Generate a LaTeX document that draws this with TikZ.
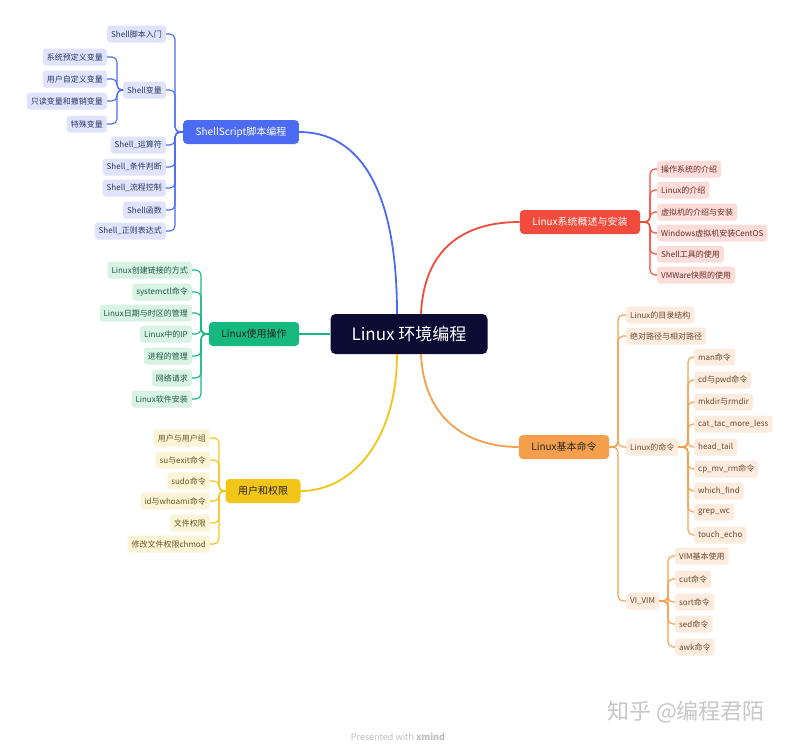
\documentclass[tikz,border=0pt]{standalone}
\usepackage{fontspec}
\setmainfont{Noto Sans CJK SC}
\usetikzlibrary{positioning,calc}
\definecolor{hub}{HTML}{0B0B33}
\definecolor{blu}{HTML}{4B6CF2}
\definecolor{blusoft}{HTML}{DFE4FC}
\definecolor{blutext}{HTML}{2E3766}
\definecolor{grn}{HTML}{17B880}
\definecolor{grnsoft}{HTML}{D8F2E6}
\definecolor{grntext}{HTML}{1E5A44}
\definecolor{yel}{HTML}{F2C519}
\definecolor{yelsoft}{HTML}{FCF4D6}
\definecolor{yeltext}{HTML}{65561F}
\definecolor{red}{HTML}{F04B3C}
\definecolor{redsoft}{HTML}{FCDDD9}
\definecolor{redtext}{HTML}{6A2B26}
\definecolor{org}{HTML}{F59F4C}
\definecolor{orgsoft}{HTML}{FDEBDD}
\definecolor{orgtext}{HTML}{6A4A30}

\begin{document}
\begin{tikzpicture}[x=1pt,y=-1pt,
  font=\fontsize{8}{9}\selectfont,
  leaf/.style={rounded corners=3pt,inner xsep=4pt,inner ysep=0pt,minimum height=17pt},
  bleaf/.style={leaf,fill=blusoft,text=blutext},
  gleaf/.style={leaf,fill=grnsoft,text=grntext},
  yleaf/.style={leaf,fill=yelsoft,text=yeltext},
  rleaf/.style={leaf,fill=redsoft,text=redtext},
  oleaf/.style={leaf,fill=orgsoft,text=orgtext},
  branch/.style={rounded corners=4pt,inner xsep=12.5pt,inner ysep=0pt,minimum height=24pt,
                 font=\fontsize{10}{12}\selectfont},
  bline/.style={blu,line width=1.1pt,rounded corners=5pt},
  gline/.style={grn,line width=1.1pt,rounded corners=5pt},
  yline/.style={yel,line width=1.1pt,rounded corners=5pt},
  rline/.style={red,line width=1.1pt,rounded corners=5pt},
  oline/.style={org,line width=1.1pt,rounded corners=5pt},
  trunk/.style={line width=1.8pt}
]
\fill[white] (0,0) rectangle (793,745);
\useasboundingbox (0,0) rectangle (793,745);

% centre
\node[fill=hub,text=white,rounded corners=5pt,minimum width=157pt,minimum height=40pt,
      font=\fontsize{17}{20}\selectfont] (hub) at (409,334) {Linux 环境编程};

% ShellScript
\node[branch,fill=blu,text=white] (ss) at (241,132) {ShellScript脚本编程};
\node[bleaf,anchor=east] (ss1) at (166,34)  {Shell脚本入门};
\node[bleaf,anchor=east] (ssv) at (166,90)  {Shell变量};
\node[bleaf,anchor=east] (ss3) at (166,145) {Shell\_运算符};
\node[bleaf,anchor=east] (ss4) at (166,167) {Shell\_条件判断};
\node[bleaf,anchor=east] (ss5) at (166,188) {Shell\_流程控制};
\node[bleaf,anchor=east] (ss6) at (166,210) {Shell函数};
\node[bleaf,anchor=east] (ss7) at (166,231) {Shell\_正则表达式};
\node[bleaf,anchor=east] (v1) at (107,57)  {系统预定义变量};
\node[bleaf,anchor=east] (v2) at (107,79)  {用户自定义变量};
\node[bleaf,anchor=east] (v3) at (107,101) {只读变量和撤销变量};
\node[bleaf,anchor=east] (v4) at (107,124) {特殊变量};
\coordinate (ssk) at (175,132);
\coordinate (ssvk) at (117,90);
\foreach \n in {ss1,ssv,ss3,ss4,ss5,ss6,ss7} \draw[bline] (ss.west) -- (ssk) |- (\n.east);
\foreach \n in {v1,v2,v3,v4} \draw[bline] (ssv.west) -- (ssvk) |- (\n.east);

% Linux使用操作
\node[branch,fill=grn,text=black!85] (gu) at (254,334) {Linux使用操作};
\node[gleaf,anchor=east] (g1) at (192,270) {Linux创建链接的方式};
\node[gleaf,anchor=east] (g2) at (192,292) {systemctl命令};
\node[gleaf,anchor=east] (g3) at (192,313) {Linux日期与时区的管理};
\node[gleaf,anchor=east] (g4) at (192,334) {Linux中的IP};
\node[gleaf,anchor=east] (g5) at (192,356) {进程的管理};
\node[gleaf,anchor=east] (g6) at (192,378) {网络请求};
\node[gleaf,anchor=east] (g7) at (192,399) {Linux软件安装};
\coordinate (gk) at (201,334);
\foreach \n in {g1,g2,g3,g4,g5,g6,g7} \draw[gline] (gu.west) -- (gk) |- (\n.east);

% 用户和权限
\node[branch,fill=yel,text=black!85] (yq) at (263,491) {用户和权限};
\node[yleaf,anchor=east] (y1) at (210,438) {用户与用户组};
\node[yleaf,anchor=east] (y2) at (210,460) {su与exit命令};
\node[yleaf,anchor=east] (y3) at (210,481) {sudo命令};
\node[yleaf,anchor=east] (y4) at (210,501) {id与whoami命令};
\node[yleaf,anchor=east] (y5) at (210,523) {文件权限};
\node[yleaf,anchor=east] (y6) at (210,544) {修改文件权限chmod};
\coordinate (yk) at (219,491);
\foreach \n in {y1,y2,y3,y4,y5,y6} \draw[yline] (yq.west) -- (yk) |- (\n.east);

% Linux系统概述与安装
\node[branch,fill=red,text=white] (rs) at (580,222) {Linux系统概述与安装};
\node[rleaf,anchor=west] (r1) at (657,169) {操作系统的介绍};
\node[rleaf,anchor=west] (r2) at (657,190) {Linux的介绍};
\node[rleaf,anchor=west] (r3) at (657,212) {虚拟机的介绍与安装};
\node[rleaf,anchor=west] (r4) at (657,233) {Windows虚拟机安装CentOS};
\node[rleaf,anchor=west] (r5) at (657,254) {Shell工具的使用};
\node[rleaf,anchor=west] (r6) at (657,275) {VMWare快照的使用};
\coordinate (rk) at (650,222);
\foreach \n in {r1,r2,r3,r4,r5,r6} \draw[rline] (rs.east) -- (rk) |- (\n.west);

% Linux基本命令
\node[branch,fill=org,text=black!85] (ob) at (564,447) {Linux基本命令};
\node[oleaf,anchor=west] (o1) at (626,315) {Linux的目录结构};
\node[oleaf,anchor=west] (o2) at (626,336) {绝对路径与相对路径};
\node[oleaf,anchor=west] (oc) at (626,447) {Linux的命令};
\node[oleaf,anchor=west] (ov) at (626,601) {VI\_VIM};
\coordinate (ok) at (618,447);
\foreach \n in {o1,o2,oc,ov} \draw[oline] (ob.east) -- (ok) |- (\n.west);

\node[oleaf,anchor=west] (c1) at (694,357) {man命令};
\node[oleaf,anchor=west] (c2) at (694,380) {cd与pwd命令};
\node[oleaf,anchor=west] (c3) at (694,402) {mkdir与rmdir};
\node[oleaf,anchor=west] (c4) at (694,424) {cat\_tac\_more\_less};
\node[oleaf,anchor=west] (c5) at (694,447) {head\_tail};
\node[oleaf,anchor=west] (c6) at (694,469) {cp\_mv\_rm命令};
\node[oleaf,anchor=west] (c7) at (694,491) {which\_find};
\node[oleaf,anchor=west] (c8) at (694,512) {grep\_wc};
\node[oleaf,anchor=west] (c9) at (694,535) {touch\_echo};
\coordinate (ock) at (688,447);
\foreach \n in {c1,c2,c3,c4,c5,c6,c7,c8,c9} \draw[oline] (oc.east) -- (ock) |- (\n.west);

\node[oleaf,anchor=west] (m1) at (675,556) {VIM基本使用};
\node[oleaf,anchor=west] (m2) at (675,579) {cut命令};
\node[oleaf,anchor=west] (m3) at (675,602) {sort命令};
\node[oleaf,anchor=west] (m4) at (675,624) {sed命令};
\node[oleaf,anchor=west] (m5) at (675,647) {awk命令};
\coordinate (ovk) at (668,601);
\foreach \n in {m1,m2,m3,m4,m5} \draw[oline] (ov.east) -- (ovk) |- (\n.west);

% trunks from the centre
\draw[blu,trunk] (ss.east) .. controls (360,132) and (397,190) .. ($(hub.north)+(-12,0)$);
\draw[red,trunk] (rs.west) .. controls (462,222) and (424,250) .. ($(hub.north)+(12,0)$);
\draw[grn,trunk] (gu.east) -- (hub.west);
\draw[yel,trunk] (yq.east) .. controls (352,491) and (397,440) .. ($(hub.south)+(-12,0)$);
\draw[org,trunk] (ob.west) .. controls (468,447) and (424,420) .. ($(hub.south)+(12,0)$);

% watermark
\node[text=black!22,font=\fontsize{22}{26}\selectfont] (wm) at (686,712) {知乎 @编程君陌};
\node[text=black!25,font=\fontsize{9}{11}\selectfont] (xm) at (398,737) {Presented with \textbf{xmind}};
\end{tikzpicture}
\end{document}
